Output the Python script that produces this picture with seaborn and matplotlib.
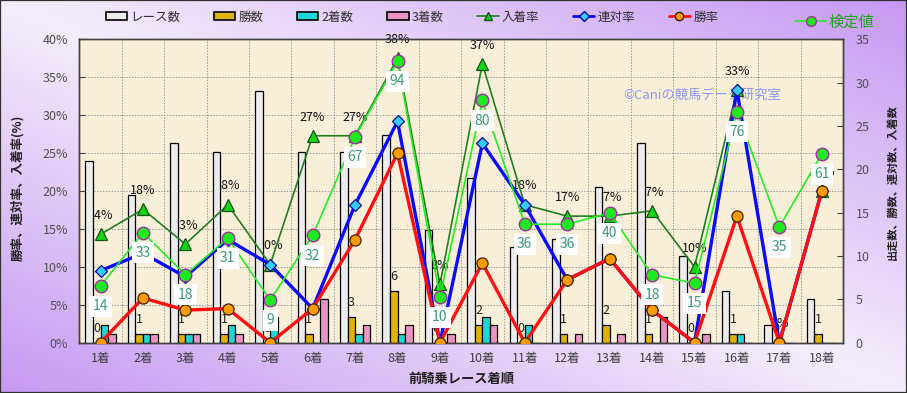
import numpy as np
import pandas as pd
import matplotlib
matplotlib.use("Agg")
import matplotlib.pyplot as plt
import seaborn as sns
from matplotlib.patches import Rectangle
from matplotlib.lines import Line2D

# ---------------- data ----------------
categories = ["1着", "2着", "3着", "4着", "5着", "6着", "7着", "8着", "9着",
              "10着", "11着", "12着", "13着", "14着", "15着", "16着", "17着", "18着"]
races = [21, 17, 23, 22, 29, 22, 22, 24, 13, 19, 11, 12, 18, 23, 10, 6, 2, 5]
wins = [0, 1, 1, 1, 0, 1, 3, 6, 0, 2, 0, 1, 2, 1, 0, 1, 0, 1]
seconds = [2, 1, 1, 2, 3, 0, 1, 1, 0, 3, 2, 0, 0, 0, 0, 1, 0, 0]
thirds = [1, 1, 1, 1, 0, 5, 2, 2, 1, 2, 0, 1, 1, 3, 1, 0, 0, 0]
place_rate = [14.3, 17.6, 13.0, 18.2, 10.3, 27.3, 27.3, 37.5, 7.7, 36.8, 18.2, 16.7, 16.7, 17.4, 10.0, 33.3, 0.0, 20.0]
place_labels = ["14%", "18%", "13%", "18%", "10%", "27%", "27%", "38%", "8%", "37%", "18%", "17%", "17%", "17%", "10%", "33%", "0%", "20%"]
rentai_rate = [9.5, 11.8, 8.7, 13.6, 10.3, 4.5, 18.2, 29.2, 0.0, 26.3, 18.2, 8.3, 11.1, 4.3, 0.0, 33.3, 0.0, 20.0]
win_rate = [0.0, 5.9, 4.3, 4.5, 0.0, 4.5, 13.6, 25.0, 0.0, 10.5, 0.0, 8.3, 11.1, 4.3, 0.0, 16.7, 0.0, 20.0]
kentei = [14, 33, 18, 31, 9, 32, 67, 94, 10, 80, 36, 36, 40, 18, 15, 76, 35, 61]

bar_series = ["レース数", "勝数", "2着数", "3着数"]
bar_colors = ["#ececec", "#e2b203", "#1fd6d6", "#e994c4"]
pct_ticks = [0, 5, 10, 15, 20, 25, 30, 35, 40]
cnt_ticks = [0, 5, 10, 15, 20, 25, 30, 35]

# ---------------- style ----------------
sns.set_theme(style="white")
plt.rcParams['font.family'] = ['Noto Sans CJK JP', 'DejaVu Sans']

W, H = 907, 393
fig = plt.figure(figsize=(W / 100, H / 100), dpi=100)

# gradient background
bg = fig.add_axes([0, 0, 1, 1], zorder=-10)
yy, xx = np.mgrid[0:H, 0:W]
t = np.abs(xx / W - yy / H)
light = np.array([0xf4, 0xee, 0xfc]) / 255
dark = np.array([0xc6, 0x98, 0xf2]) / 255
img = light + (dark - light) * t[..., None]
bg.imshow(img, aspect='auto', extent=[0, 1, 0, 1], origin='upper')
bg.axis('off')
fig.patches.append(Rectangle((0, 0), 1, 1, transform=fig.transFigure, fill=False,
                             edgecolor='#303030', lw=1.6))

x0, x1, ytop, ybot = 79.3, 843.0, 39.5, 342.7
ax = fig.add_axes([x0 / W, 1 - ybot / H, (x1 - x0) / W, (ybot - ytop) / H])
ax.set_facecolor('#f9efd9')

ax_pct = ax.twinx()
ax_pct.set_ylim(0, 40)
ax.set_ylim(0, 35)

# bars (count axis)
df = pd.DataFrame({
    'cat': categories * 4,
    'series': sum([[s] * len(categories) for s in bar_series], []),
    'value': races + wins + seconds + thirds,
})
sns.barplot(data=df, x='cat', y='value', hue='series', hue_order=bar_series,
            palette=bar_colors, width=0.71, edgecolor='black', linewidth=0.9,
            saturation=1, ax=ax, legend=False, zorder=3)
n = len(categories)
ax.set_xlim(-0.5, n - 0.5)
ax.set_ylim(0, 35)

# grid
ax.vlines(np.arange(n + 1) - 0.5, 0, 35, colors='#9a9a9a', linestyles=(0, (1.5, 1.5)), lw=0.7, zorder=1)
ax.hlines(pct_ticks[1:-1], -0.5, n - 0.5, colors='#9a9a9a', linestyles=(0, (1.5, 1.5)), lw=0.7,
          zorder=1, transform=ax_pct.transData)

# win-count labels (behind bars)
bw = 0.71 / 4
for i, v in enumerate(wins):
    ax.annotate(str(v), xy=(i - bw / 2, v), xytext=(0, 10.5), textcoords='offset points',
                ha='center', va='center', fontsize=9, color='#202020', zorder=2)
# place-rate labels (behind bars)
for i, (v, lab) in enumerate(zip(place_rate, place_labels)):
    ax.annotate(lab, xy=(i, v), xycoords=ax_pct.transData, xytext=(0, 13.5),
                textcoords='offset points', ha='center', va='center', fontsize=9,
                color='#101010', zorder=2)

ax.text(0.815, 0.815, "©Caniの競馬データ研究室", transform=ax.transAxes, ha='center', va='center',
        fontsize=9.5, color='#8b98f2', zorder=4)

# lines (percent axis)
xs = np.arange(n)
sns.lineplot(x=xs, y=place_rate, ax=ax_pct, color='#1f7f1f', lw=1.2, marker='^', markersize=9,
             markerfacecolor='#14d414', markeredgecolor='#145214', markeredgewidth=0.9, zorder=3)
sns.lineplot(x=xs, y=rentai_rate, ax=ax_pct, color='#0a0aff', lw=2.4, marker='D', markersize=6.5,
             markerfacecolor='#33ccff', markeredgecolor='#0a0a90', markeredgewidth=0.9, zorder=4)
sns.lineplot(x=xs, y=win_rate, ax=ax_pct, color='#ff1010', lw=2.4, marker='o', markersize=8,
             markerfacecolor='#ff9a00', markeredgecolor='#402000', markeredgewidth=0.9, zorder=5)
ax_pct.set_ylim(0, 40)
ax_pct.set_xlim(-0.5, n - 0.5)

# kentei (hidden axis)
ax_k = ax.twinx()
sns.lineplot(x=xs, y=kentei, ax=ax_k, color='#22ee22', lw=1.2, marker='o', markersize=9,
             markerfacecolor='#1ee81e', markeredgecolor='#a030a0', markeredgewidth=1.0, zorder=3)
for i, v in enumerate(kentei):
    ax_k.annotate(str(v), xy=(i, v), xytext=(0, -14.5), textcoords='offset points',
                  ha='center', va='center', fontsize=10, color='#3a9a7a', zorder=6,
                  bbox=dict(boxstyle='square,pad=0.25', fc='white', ec='none'))
ax_k.set_ylim(-6.16, 101.7)
ax_k.set_xlim(-0.5, n - 0.5)
ax_k.axis('off')

# axes formatting
ax.set_xlabel('')
ax.set_ylabel('')
ax_pct.set_ylabel('')
ax.yaxis.tick_right()
ax.yaxis.set_label_position('right')
ax.set_yticks(cnt_ticks)
ax.set_yticklabels([str(v) for v in cnt_ticks])
ax_pct.yaxis.tick_left()
ax_pct.set_yticks(pct_ticks)
ax_pct.set_yticklabels([f"{v}%" for v in pct_ticks])
ax.set_xticks(xs)
ax.set_xticklabels(categories)
ax.tick_params(axis='y', direction='in', length=4, width=0.8, pad=9, labelsize=9,
               labelcolor='#505050', color='#404040', right=True, left=False,
               labelright=True, labelleft=False)
ax.tick_params(axis='x', length=0, pad=7, labelsize=9, labelcolor='#404040')
ax_pct.tick_params(axis='y', direction='in', length=4, width=0.8, pad=8, labelsize=9,
                   labelcolor='#505050', color='#404040', left=True, right=False,
                   labelleft=True, labelright=False)
for a in (ax, ax_pct):
    for s in a.spines.values():
        s.set_color('#404040')
        s.set_linewidth(1.0)
        s.set_visible(True)

fig.text(18 / W, 1 - 188 / H, "勝率、連対率、入着率(%)", rotation=90, ha='center', va='center',
         fontsize=9, fontweight='bold', color='#202020')
fig.text(892 / W, 1 - 182 / H, "出走数、勝数、連対数、入着数", rotation=90, ha='center', va='center',
         fontsize=8, fontweight='bold', color='#202020')
fig.text(461 / W, 1 - 379 / H, "前騎乗レース着順", ha='center', va='center',
         fontsize=9.5, fontweight='bold', color='#202020')

# legends
handles = [Rectangle((0, 0), 1, 1, facecolor=c, edgecolor='black', lw=1.2) for c in bar_colors]
handles += [
    Line2D([], [], color='#1f7f1f', lw=1.2, marker='^', markersize=6, markerfacecolor='#14d414',
           markeredgecolor='#145214'),
    Line2D([], [], color='#0a0aff', lw=2.0, marker='D', markersize=5, markerfacecolor='#33ccff',
           markeredgecolor='#0a0a90'),
    Line2D([], [], color='#ff1010', lw=2.0, marker='o', markersize=6, markerfacecolor='#ff9a00',
           markeredgecolor='#402000'),
]
labels = bar_series + ["入着率", "連対率", "勝率"]
fig.legend(handles, labels, loc='center', bbox_to_anchor=(412 / W, 1 - 17 / H), ncol=7,
           frameon=False, fontsize=9, handlelength=1.7, handleheight=0.55, handletextpad=0.25,
           columnspacing=2.7, labelcolor='#303030')
kh = Line2D([], [], color='#22ee22', lw=1.2, marker='o', markersize=7, markerfacecolor='#1ee81e',
            markeredgecolor='#a030a0')
fig.legend([kh], ["検定値"], loc='center', bbox_to_anchor=(835 / W, 1 - 22 / H), frameon=False,
           fontsize=11, handlelength=2.0, handletextpad=0.2, labelcolor='#22a022')

fig.savefig("out.png", dpi=100)
